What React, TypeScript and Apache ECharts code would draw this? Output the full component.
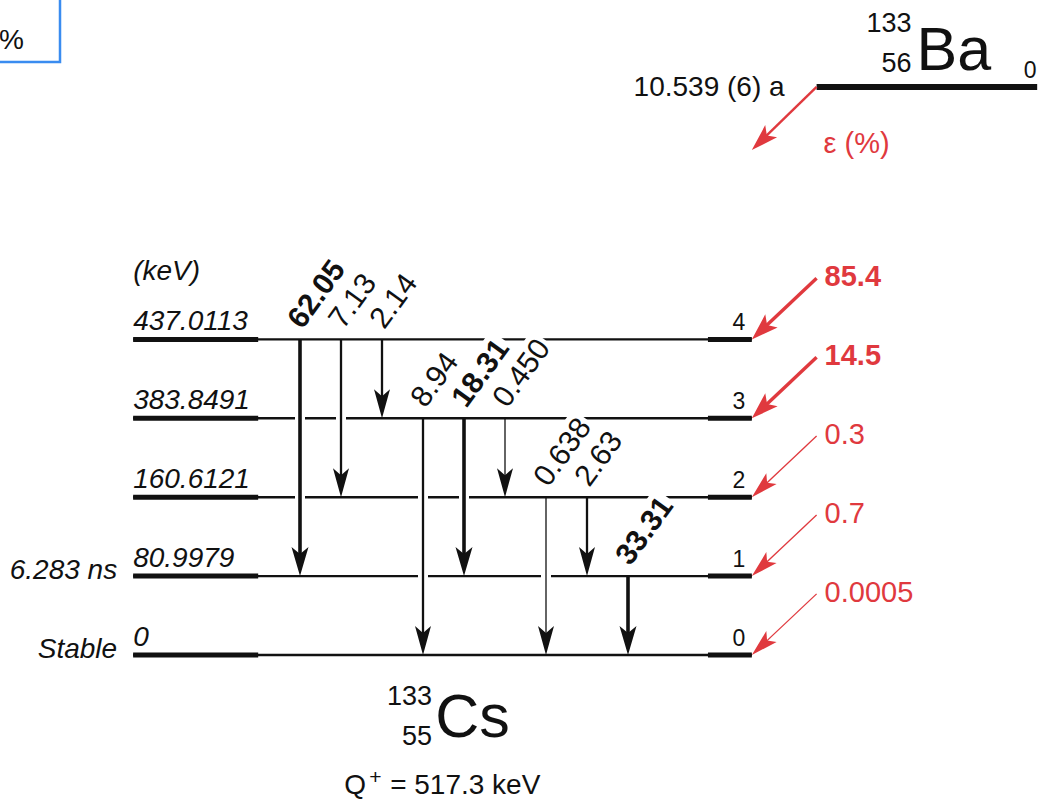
import React, { useEffect, useRef } from "react";
import * as echarts from "echarts";

// ---------------- data ----------------
const levelEnergies = ["0", "80.9979", "160.6121", "383.8491", "437.0113"];
const levelHalfLives = ["Stable", "6.283 ns", "", "", ""];
const levelNumbers = ["0", "1", "2", "3", "4"];

const feedPercent = [0.0005, 0.7, 0.3, 14.5, 85.4];
const feedLabels = ["0.0005", "0.7", "0.3", "14.5", "85.4"];

const gammaFrom = [4, 4, 4, 3, 3, 3, 2, 2, 1];
const gammaTo = [1, 2, 3, 0, 1, 2, 0, 1, 0];
const gammaIntensity = [62.05, 7.13, 2.14, 8.94, 18.31, 0.45, 0.638, 2.63, 33.31];
const gammaLabels = ["62.05", "7.13", "2.14", "8.94", "18.31", "0.450", "0.638", "2.63", "33.31"];

const parentSymbol = "Ba";
const parentA = "133";
const parentZ = "56";
const parentHalfLife = "10.539 (6) a";
const parentLevel = "0";
const decayLabel = "ε (%)";

const daughterSymbol = "Cs";
const daughterA = "133";
const daughterZ = "55";
const qValueText = "= 517.3 keV";
const energyUnit = "(keV)";

// ---------------- layout ----------------
const W = 1044;
const H = 801;
const COL_ORIGIN_PX = 300;
const COL_STEP_PX = 41;
const ROW0_PX = 655;
const ROW_STEP_PX = 78.9;

const LEVEL_X0 = -4.07;
const LEVEL_THICK_L = -1.02;
const LEVEL_THICK_R = 9.95;
const LEVEL_X1 = 11.02;
const PARENT_X0 = 12.6;
const PARENT_X1 = 17.98;
const PARENT_ROW = 7.2;
const FEED_DROP = 0.775;
const EC_DROP = 0.8;

const INK = "#111111";
const RED = "#e0393e";
const BLUE = "#3a8cf0";
const FAMILY = '"Liberation Sans", Arial, Helvetica, sans-serif';
const ROT = (54 * Math.PI) / 180;

function font(size: number, opts = "") {
  return `${opts} ${size}px ${FAMILY}`.trim();
}

function txt(
  x: number,
  y: number,
  text: string,
  size: number,
  o: { align?: string; vAlign?: string; fill?: string; style?: string; rotation?: number; bg?: string } = {}
) {
  const align = o.align || "left";
  const vAlign = o.vAlign || "middle";
  const style: any = {
    x: 0,
    y: 0,
    text,
    fill: o.fill || INK,
    font: font(size, o.style || ""),
    align,
    textAlign: align,
    verticalAlign: vAlign,
    textVerticalAlign: vAlign,
  };
  if (o.bg) {
    style.backgroundColor = o.bg;
    style.padding = [1, 3];
  }
  return { type: "text", x, y, rotation: o.rotation || 0, silent: true, style };
}

function seg(x1: number, y1: number, x2: number, y2: number, lw: number, color: string) {
  return { type: "line", silent: true, shape: { x1, y1, x2, y2 }, style: { stroke: color, lineWidth: lw } };
}

function head(tx: number, ty: number, dx: number, dy: number, len: number, hw: number, notch: number, color: string) {
  const px = -dy;
  const py = dx;
  const bx = tx - dx * len;
  const by = ty - dy * len;
  return {
    type: "polygon",
    silent: true,
    shape: {
      points: [
        [tx, ty],
        [bx + px * hw, by + py * hw],
        [tx - dx * (len - notch), ty - dy * (len - notch)],
        [bx - px * hw, by - py * hw],
      ],
    },
    style: { fill: color },
  };
}

function arrow(sx: number, sy: number, tx: number, ty: number, lw: number, hw: number, color: string) {
  const len = Math.hypot(tx - sx, ty - sy);
  const dx = (tx - sx) / len;
  const dy = (ty - sy) / len;
  return [seg(sx, sy, tx - dx * 18, ty - dy * 18, lw, color), head(tx, ty, dx, dy, 27, hw, 6, color)];
}

export default function App() {
  const ref = useRef<HTMLDivElement>(null);

  useEffect(() => {
    if (!ref.current) return;
    const chart = echarts.init(ref.current, undefined, { renderer: "svg" });

    const levelSeries = {
      type: "custom",
      coordinateSystem: "cartesian2d",
      silent: true,
      clip: false,
      encode: { x: 0, y: 1 },
      data: levelEnergies.map((_, i) => [LEVEL_X0, i]),
      renderItem: (params: any, api: any) => {
        const i = params.dataIndex;
        const [xl, y] = api.coord([LEVEL_X0, i]);
        const [xtl] = api.coord([LEVEL_THICK_L, i]);
        const [xtr] = api.coord([LEVEL_THICK_R, i]);
        const [xr] = api.coord([LEVEL_X1, i]);
        const children: any[] = [
          seg(xl, y, xr, y, 2.4, INK),
          seg(xl, y, xtl, y, 5, INK),
          seg(xtr, y, xr, y, 5, INK),
          txt(xl, y - 19, levelEnergies[i], 28, { style: "italic" }),
          txt(xr - 13, y - 17, levelNumbers[i], 23, { align: "center" }),
        ];
        if (levelHalfLives[i]) {
          children.push(txt(xl - 16, y - 7, levelHalfLives[i], 28, { align: "right", style: "italic" }));
        }
        if (i === levelEnergies.length - 1) {
          children.push(txt(xl, y - 69, energyUnit, 28, { style: "italic" }));
        }
        if (i === 0) {
          // daughter nuclide label and Q value
          children.push(txt(xl + 302, y + 61, daughterSymbol, 61));
          children.push(txt(xl + 299, y + 41, daughterA, 27, { align: "right" }));
          children.push(txt(xl + 299, y + 81, daughterZ, 27, { align: "right" }));
          children.push(txt(xl + 211, y + 129, "Q", 28));
          children.push(txt(xl + 236, y + 121, "+", 21));
          children.push(txt(xl + 257, y + 129, qValueText, 28));
        }
        return { type: "group", children };
      },
    };

    const gammaSeries = {
      type: "custom",
      coordinateSystem: "cartesian2d",
      silent: true,
      clip: false,
      encode: { x: 0, y: 1 },
      data: gammaIntensity.map((_, k) => [k, gammaFrom[k], gammaTo[k]]),
      renderItem: (params: any, api: any) => {
        const k = params.dataIndex;
        const [x, y1] = api.coord([k, gammaFrom[k]]);
        const [, y2] = api.coord([k, gammaTo[k]]);
        const I = gammaIntensity[k];
        const lw = I >= 10 ? 3.6 : I >= 1 ? 2.3 : 1.3;
        const bold = I >= 10;
        return {
          type: "group",
          children: [
            seg(x, y1 + 4, x, y2 - 4, 10, "#ffffff"),
            seg(x, y1, x, y2 - 18, lw, INK),
            head(x, y2, 0, 1, 29, I >= 10 ? 8.5 : 8, 7, INK),
            txt(x - 8, y1 - 13, gammaLabels[k], 30, {
              style: bold ? "bold" : "",
              rotation: ROT,
              bg: "#ffffff",
            }),
          ],
        };
      },
    };

    const feedSeries = {
      type: "custom",
      coordinateSystem: "cartesian2d",
      silent: true,
      clip: false,
      encode: { x: 0, y: 1 },
      data: feedPercent.map((_, r) => [LEVEL_X1, r]),
      renderItem: (params: any, api: any) => {
        const r = params.dataIndex;
        const [tx, ty] = api.coord([LEVEL_X1, r]);
        const [sx, sy] = api.coord([PARENT_X0, r + FEED_DROP]);
        const big = feedPercent[r] >= 10;
        return {
          type: "group",
          children: [
            ...arrow(sx, sy, tx, ty, big ? 3.4 : 1.3, big ? 9 : 7.5, RED),
            txt(sx + 8, sy - 2, feedLabels[r], 29, { fill: RED, style: big ? "bold" : "" }),
          ],
        };
      },
    };

    const parentSeries = {
      type: "custom",
      coordinateSystem: "cartesian2d",
      silent: true,
      clip: false,
      encode: { x: 0, y: 1 },
      data: [[PARENT_X0, PARENT_ROW]],
      renderItem: (_params: any, api: any) => {
        const [x0, y] = api.coord([PARENT_X0, PARENT_ROW]);
        const [x1] = api.coord([PARENT_X1, PARENT_ROW]);
        const [ex, ey] = api.coord([LEVEL_X1, PARENT_ROW - EC_DROP]);
        return {
          type: "group",
          children: [
            seg(x0, y, x1, y, 6, INK),
            txt(x1 - 7, y - 17, parentLevel, 23, { align: "center" }),
            txt(x0 - 32, y, parentHalfLife, 28, { align: "right" }),
            ...arrow(x0, y, ex, ey, 2.4, 8.5, RED),
            txt(x0 + 7, ey - 7, decayLabel, 29, { fill: RED }),
            txt(x0 + 100, y - 38, parentSymbol, 61),
            txt(x0 + 95, y - 64, parentA, 27, { align: "right" }),
            txt(x0 + 95, y - 24, parentZ, 27, { align: "right" }),
          ],
        };
      },
    };

    chart.setOption({
      animation: false,
      backgroundColor: "#ffffff",
      grid: { left: 0, right: 0, top: 0, bottom: 0, containLabel: false },
      xAxis: {
        type: "value",
        show: false,
        min: -COL_ORIGIN_PX / COL_STEP_PX,
        max: (W - COL_ORIGIN_PX) / COL_STEP_PX,
      },
      yAxis: {
        type: "value",
        show: false,
        min: (ROW0_PX - H) / ROW_STEP_PX,
        max: ROW0_PX / ROW_STEP_PX,
      },
      graphic: [
        {
          type: "rect",
          silent: true,
          shape: { x: -20, y: -20, width: 80, height: 82 },
          style: { fill: "none", stroke: BLUE, lineWidth: 2.5 },
        },
        {
          type: "text",
          silent: true,
          x: -1,
          y: 39,
          style: {
            text: "%",
            font: font(28),
            fill: INK,
            align: "left",
            textAlign: "left",
            verticalAlign: "middle",
            textVerticalAlign: "middle",
          },
        },
      ],
      series: [levelSeries, gammaSeries, feedSeries, parentSeries],
    });

    return () => chart.dispose();
  }, []);

  return (
    <div
      ref={ref}
      style={{ position: "absolute", left: 0, top: 0, width: W + "px", height: H + "px", background: "#fff" }}
    />
  );
}
